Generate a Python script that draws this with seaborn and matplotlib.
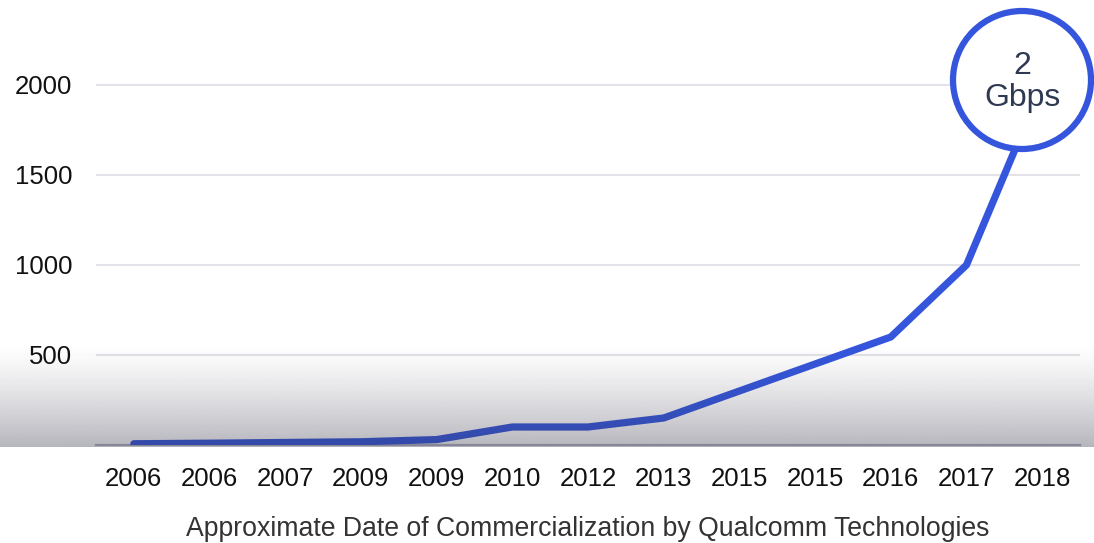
import numpy as np
import pandas as pd
import seaborn as sns
import matplotlib.pyplot as plt
from matplotlib.patches import Circle

# approximate peak download speed (Mbps) per modem generation
years = ["2006", "2006", "2007", "2009", "2009", "2010", "2012",
         "2013", "2015", "2015", "2016", "2017", "2018"]
speeds = [7, 10, 14, 18, 30, 100, 100, 150, 300, 450, 600, 1000, 2000]
yticks = [500, 1000, 1500, 2000]

df = pd.DataFrame({"idx": range(len(years)), "year": years, "speed": speeds})

sns.set_theme(style="white")
plt.rcParams["font.family"] = ["Liberation Sans", "DejaVu Sans"]

fig = plt.figure(figsize=(10.94, 5.43), dpi=100)
ax = fig.add_axes([96 / 1094, 98 / 543, 984 / 1094, 432 / 543])
ax.patch.set_alpha(0)

for v in yticks:
    ax.axhline(v, color="#e2e2e8", lw=1.5, zorder=0)

sns.lineplot(data=df, x="idx", y="speed", ax=ax, color="#3556dc", lw=5.2,
             solid_capstyle="round", solid_joinstyle="round", zorder=3)

ax.set_xlim(-0.5, len(years) - 0.5)
ax.set_ylim(0, 2400)
ax.set_xticks(df["idx"])
ax.set_xticklabels(years)
ax.set_yticks(yticks)
ax.tick_params(axis="x", length=0, pad=16, labelsize=18.5, labelcolor="#111111")
ax.tick_params(axis="y", length=0, pad=17, labelsize=18.5, labelcolor="#111111")
for s in ["top", "right", "left"]:
    ax.spines[s].set_visible(False)
ax.spines["bottom"].set_color("#b4b5c4")
ax.spines["bottom"].set_linewidth(1.6)
ax.set_xlabel("Approximate Date of Commercialization by Qualcomm Technologies",
              fontsize=19.2, color="#333333", labelpad=18)
ax.set_ylabel("")

# grey shading overlay along the bottom band
ov = fig.add_axes([0, 96 / 543, 1, 104 / 543], zorder=5)
ov.axis("off")
t = np.linspace(0, 1, 200) ** 1.3
grad = np.zeros((200, 2, 4))
grad[:, :, 0] = 0.2
grad[:, :, 1] = 0.2
grad[:, :, 2] = 0.28
grad[:, :, 3] = (0.36 * t)[:, None]
ov.imshow(grad, aspect="auto", extent=[0, 1, 0, 1], origin="upper")
ov.set_xlim(0, 1)
ov.set_ylim(0, 1)

# callout bubble
circ = Circle((10.22, 4.63), 0.69, transform=fig.dpi_scale_trans,
              facecolor="white", edgecolor="#3556dc", lw=4.5, zorder=10)
fig.patches.append(circ)
fig.text(1022 / 1094, 1 - 82 / 543, "2\nGbps", ha="center", va="center",
         fontsize=23, color="#2f3a52", linespacing=1.12, zorder=11)

fig.savefig("out.png", dpi=100)
